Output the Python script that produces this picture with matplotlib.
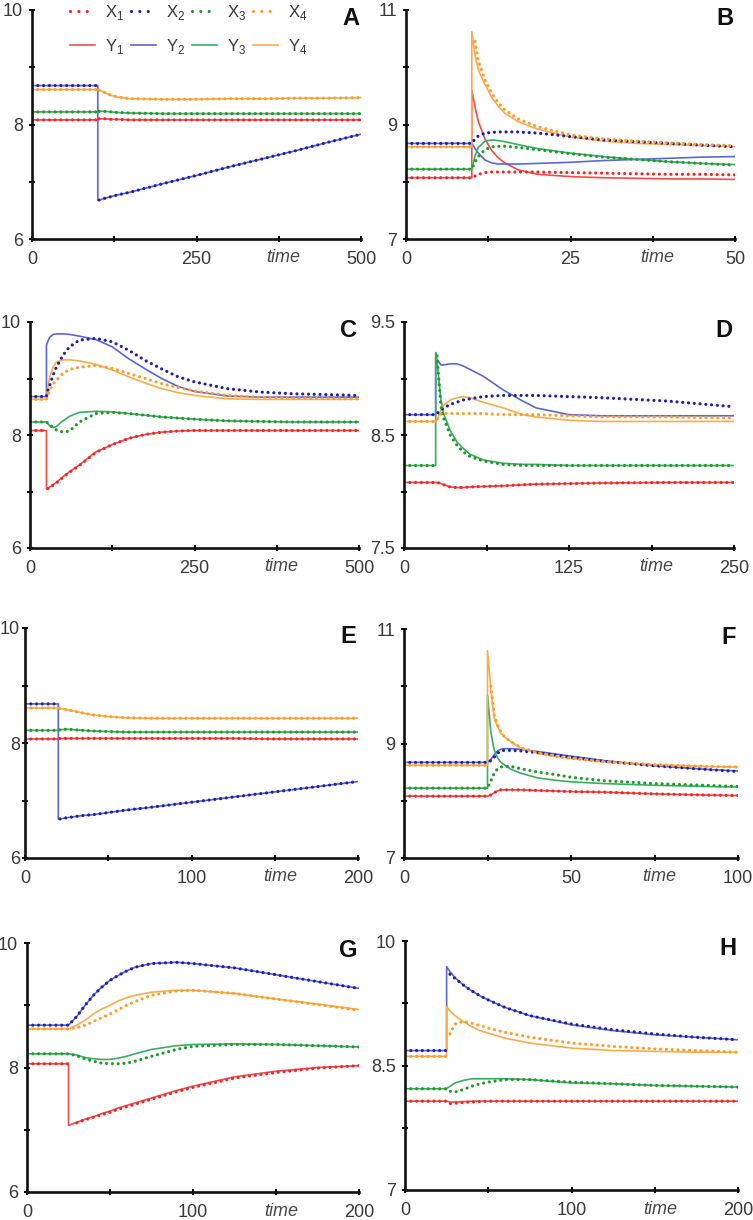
"""Eight small time-course panels (A-H): model X_i dotted, Y_i solid.
Values are read off the published figure, one list per series.
"""

import numpy as np
import matplotlib
matplotlib.use("Agg")
import matplotlib.pyplot as plt
from matplotlib.lines import Line2D

plt.rcParams["font.family"] = ["Liberation Sans", "DejaVu Sans"]
plt.rcParams["mathtext.fontset"] = "custom"
plt.rcParams["mathtext.rm"] = "Liberation Sans"
nan = np.nan

# ---------------- panel A ----------------
A_T = [0, 100, 100, 102, 110, 120, 130, 150, 200, 250, 300, 350, 400, 450, 500]
A_X1 = [8.08, 8.08, nan, 8.10, 8.10, 8.09, 8.09, 8.08, 8.08, 8.08, 8.08, 8.08, 8.08, 8.08, 8.08]
A_X2 = [8.68, 8.68, nan, 6.68, 6.71, 6.74, 6.77, 6.82, 6.97, 7.11, 7.26, 7.40, 7.54, 7.69, 7.83]
A_X3 = [8.22, 8.22, nan, 8.23, 8.23, 8.22, 8.21, 8.20, 8.19, 8.19, 8.19, 8.19, 8.19, 8.19, 8.19]
A_X4 = [8.61, 8.61, nan, 8.60, 8.56, 8.51, 8.48, 8.45, 8.44, 8.44, 8.45, 8.45, 8.46, 8.46, 8.47]
A_Y1 = [8.08, 8.08, 8.10, 8.10, 8.10, 8.09, 8.09, 8.08, 8.08, 8.08, 8.08, 8.08, 8.08, 8.08, 8.08]
A_Y2 = [8.68, 8.68, 6.68, 6.68, 6.71, 6.74, 6.77, 6.82, 6.97, 7.11, 7.26, 7.40, 7.54, 7.69, 7.83]
A_Y3 = [8.22, 8.22, 8.23, 8.23, 8.23, 8.22, 8.21, 8.20, 8.19, 8.19, 8.19, 8.19, 8.19, 8.19, 8.19]
A_Y4 = [8.61, 8.61, 8.61, 8.60, 8.56, 8.51, 8.48, 8.45, 8.44, 8.44, 8.45, 8.45, 8.46, 8.46, 8.47]

# ---------------- panel B ----------------
B_T = [0, 10, 10, 10.5, 11, 12, 13, 14, 15, 17, 20, 25, 30, 35, 40, 45, 50]
B_X1 = [8.07, 8.07, 8.07, 8.10, 8.13, 8.16, 8.17, 8.17, 8.17, 8.17, 8.17, 8.16, 8.15, 8.14, 8.13, 8.13, 8.12]
B_X2 = [8.67, 8.67, 8.67, 8.75, 8.80, 8.85, 8.86, 8.87, 8.87, 8.87, 8.85, 8.79, 8.73, 8.70, 8.67, 8.64, 8.61]
B_X3 = [8.22, 8.22, 8.22, 8.35, 8.44, 8.56, 8.61, 8.62, 8.62, 8.60, 8.56, 8.49, 8.43, 8.39, 8.35, 8.32, 8.29]
B_X4 = [8.61, 8.61, nan, 10.45, 10.10, 9.78, 9.55, 9.38, 9.26, 9.10, 8.96, 8.82, 8.75, 8.71, 8.68, 8.65, 8.63]
B_Y1 = [8.07, 8.07, 9.60, 9.30, 9.05, 8.75, 8.55, 8.42, 8.33, 8.21, 8.13, 8.09, 8.07, 8.06, 8.05, 8.05, 8.04]
B_Y2 = [8.67, 8.67, 8.67, 8.58, 8.50, 8.38, 8.33, 8.31, 8.31, 8.31, 8.32, 8.34, 8.37, 8.39, 8.41, 8.43, 8.44]
B_Y3 = [8.22, 8.22, 8.22, 8.45, 8.60, 8.71, 8.73, 8.72, 8.70, 8.65, 8.58, 8.50, 8.44, 8.39, 8.35, 8.32, 8.30]
B_Y4 = [8.61, 8.61, 10.62, 10.20, 9.95, 9.70, 9.48, 9.32, 9.20, 9.05, 8.92, 8.78, 8.71, 8.67, 8.65, 8.63, 8.61]

# ---------------- panel C ----------------
C_T = [0, 25, 25, 27, 30, 35, 40, 50, 60, 75, 100, 125, 150, 175, 200, 225, 250, 300, 350, 400, 500]
C_X1 = [8.08, 8.08, nan, 7.05, 7.07, 7.11, 7.15, 7.25, 7.34, 7.46, 7.69, 7.83, 7.94, 8.01, 8.05, 8.07, 8.08, 8.08, 8.08, 8.08, 8.08]
C_X2 = [8.68, 8.68, 8.68, 8.78, 8.88, 9.06, 9.20, 9.41, 9.56, 9.68, 9.71, 9.65, 9.50, 9.32, 9.17, 9.03, 8.94, 8.82, 8.76, 8.73, 8.70]
C_X3 = [8.23, 8.23, 8.23, 8.21, 8.18, 8.13, 8.09, 8.05, 8.07, 8.23, 8.38, 8.40, 8.38, 8.35, 8.32, 8.30, 8.28, 8.25, 8.24, 8.23, 8.23]
C_X4 = [8.63, 8.63, 8.63, 8.70, 8.79, 8.90, 8.97, 9.09, 9.16, 9.20, 9.23, 9.18, 9.09, 9.00, 8.91, 8.84, 8.78, 8.70, 8.67, 8.65, 8.64]
C_Y1 = [8.08, 8.08, 7.05, 7.06, 7.08, 7.12, 7.16, 7.26, 7.35, 7.47, 7.70, 7.83, 7.94, 8.01, 8.05, 8.07, 8.08, 8.08, 8.08, 8.08, 8.08]
C_Y2 = [8.68, 8.68, 9.59, 9.65, 9.73, 9.78, 9.79, 9.79, 9.78, 9.75, 9.69, 9.56, 9.35, 9.17, 9.00, 8.86, 8.77, 8.69, 8.67, 8.67, 8.67]
C_Y3 = [8.23, 8.23, 8.23, 8.20, 8.16, 8.13, 8.15, 8.25, 8.33, 8.40, 8.42, 8.41, 8.38, 8.35, 8.32, 8.30, 8.28, 8.25, 8.24, 8.23, 8.23]
C_Y4 = [8.63, 8.63, 8.63, 8.85, 9.03, 9.20, 9.29, 9.33, 9.33, 9.31, 9.25, 9.15, 9.03, 8.92, 8.82, 8.75, 8.70, 8.64, 8.63, 8.63, 8.63]

# ---------------- panel D ----------------
D_T = [0, 24, 24, 25, 28, 30, 35, 40, 45, 50, 60, 75, 90, 100, 125, 150, 200, 250]
D_X1 = [8.08, 8.08, 8.08, 8.08, 8.07, 8.06, 8.04, 8.035, 8.035, 8.04, 8.045, 8.05, 8.06, 8.065, 8.07, 8.075, 8.08, 8.08]
D_X2 = [8.68, 8.68, 8.68, 8.69, 8.72, 8.74, 8.77, 8.79, 8.81, 8.82, 8.84, 8.85, 8.85, 8.85, 8.84, 8.83, 8.80, 8.75]
D_X3 = [8.23, 8.23, nan, 9.20, 8.75, 8.65, 8.50, 8.41, 8.35, 8.31, 8.27, 8.24, 8.23, 8.23, 8.23, 8.23, 8.23, 8.23]
D_X4 = [8.62, 8.62, 8.62, 8.64, 8.69, 8.69, 8.69, 8.69, 8.69, 8.69, 8.69, 8.68, 8.68, 8.68, 8.67, 8.66, 8.66, 8.65]
D_Y1 = [8.08, 8.08, 8.08, 8.08, 8.07, 8.06, 8.04, 8.035, 8.035, 8.04, 8.045, 8.05, 8.06, 8.065, 8.07, 8.075, 8.08, 8.08]
D_Y2 = [8.68, 8.68, 9.19, 9.17, 9.12, 9.12, 9.13, 9.13, 9.11, 9.08, 9.02, 8.90, 8.80, 8.74, 8.68, 8.67, 8.67, 8.67]
D_Y3 = [8.23, 8.23, 9.23, 9.15, 8.81, 8.69, 8.54, 8.44, 8.38, 8.33, 8.28, 8.25, 8.24, 8.24, 8.23, 8.23, 8.23, 8.23]
D_Y4 = [8.62, 8.62, 8.62, 8.64, 8.72, 8.76, 8.81, 8.83, 8.84, 8.83, 8.79, 8.74, 8.68, 8.66, 8.63, 8.62, 8.62, 8.62]

# ---------------- panel E ----------------
E_T = [0, 20, 20, 21, 25, 30, 35, 40, 50, 60, 75, 100, 125, 150, 175, 200]
E_X1 = [8.07, 8.07, 8.07, 8.08, 8.08, 8.08, 8.08, 8.08, 8.08, 8.08, 8.08, 8.08, 8.08, 8.07, 8.07, 8.07]
E_X2 = [8.68, 8.68, nan, 6.68, 6.70, 6.72, 6.74, 6.75, 6.79, 6.83, 6.88, 6.97, 7.06, 7.15, 7.24, 7.33]
E_X3 = [8.22, 8.22, 8.22, 8.23, 8.24, 8.23, 8.22, 8.21, 8.20, 8.19, 8.19, 8.19, 8.19, 8.19, 8.19, 8.19]
E_X4 = [8.61, 8.61, 8.61, 8.60, 8.58, 8.55, 8.52, 8.49, 8.46, 8.44, 8.43, 8.43, 8.43, 8.43, 8.43, 8.43]
E_Y1 = [8.07, 8.07, 8.07, 8.08, 8.08, 8.08, 8.08, 8.08, 8.08, 8.08, 8.08, 8.08, 8.08, 8.07, 8.07, 8.07]
E_Y2 = [8.68, 8.68, 6.68, 6.68, 6.70, 6.72, 6.74, 6.75, 6.79, 6.83, 6.88, 6.97, 7.06, 7.15, 7.24, 7.33]
E_Y3 = [8.22, 8.22, 8.22, 8.23, 8.24, 8.23, 8.22, 8.21, 8.20, 8.19, 8.19, 8.19, 8.19, 8.19, 8.19, 8.19]
E_Y4 = [8.61, 8.61, 8.61, 8.60, 8.58, 8.55, 8.52, 8.49, 8.46, 8.44, 8.43, 8.43, 8.43, 8.43, 8.43, 8.43]

# ---------------- panel F ----------------
F_T = [0, 25, 25, 26, 27, 28, 29, 30, 32, 35, 40, 45, 50, 60, 75, 90, 100]
F_X1 = [8.08, 8.08, 8.08, 8.10, 8.14, 8.17, 8.19, 8.19, 8.19, 8.19, 8.18, 8.17, 8.16, 8.15, 8.12, 8.10, 8.09]
F_X2 = [8.67, 8.67, 8.67, 8.70, 8.76, 8.83, 8.87, 8.88, 8.88, 8.87, 8.84, 8.80, 8.76, 8.69, 8.61, 8.55, 8.51]
F_X3 = [8.22, 8.22, 8.22, 8.35, 8.48, 8.56, 8.59, 8.60, 8.60, 8.56, 8.50, 8.46, 8.41, 8.35, 8.30, 8.27, 8.25]
F_X4 = [8.62, 8.62, nan, 10.00, 9.50, 9.32, 9.20, 9.12, 9.03, 8.93, 8.84, 8.78, 8.74, 8.68, 8.63, 8.60, 8.59]
F_Y1 = [8.08, 8.08, 8.08, 8.10, 8.14, 8.17, 8.19, 8.19, 8.19, 8.19, 8.18, 8.17, 8.16, 8.15, 8.12, 8.10, 8.09]
F_Y2 = [8.67, 8.67, 8.67, 8.72, 8.80, 8.87, 8.90, 8.91, 8.91, 8.90, 8.86, 8.82, 8.78, 8.70, 8.61, 8.55, 8.52]
F_Y3 = [8.22, 8.22, 9.85, 9.20, 8.89, 8.75, 8.67, 8.63, 8.55, 8.48, 8.40, 8.36, 8.33, 8.30, 8.27, 8.25, 8.24]
F_Y4 = [8.62, 8.62, 10.62, 9.95, 9.44, 9.30, 9.18, 9.12, 9.03, 8.92, 8.83, 8.78, 8.74, 8.68, 8.63, 8.60, 8.59]

# ---------------- panel G ----------------
G_T = [0, 25, 25, 30, 35, 40, 45, 50, 55, 60, 65, 75, 90, 100, 125, 150, 175, 200]
G_X1 = [8.06, 8.06, nan, 7.11, 7.16, 7.20, 7.24, 7.28, 7.33, 7.37, 7.41, 7.49, 7.61, 7.68, 7.83, 7.92, 7.99, 8.03]
G_X2 = [8.68, 8.68, 8.68, 8.82, 9.00, 9.16, 9.29, 9.40, 9.48, 9.55, 9.61, 9.67, 9.69, 9.67, 9.60, 9.49, 9.38, 9.27]
G_X3 = [8.22, 8.22, 8.22, 8.19, 8.14, 8.10, 8.07, 8.06, 8.06, 8.07, 8.10, 8.18, 8.29, 8.34, 8.37, 8.37, 8.35, 8.33]
G_X4 = [8.62, 8.62, 8.62, 8.64, 8.68, 8.74, 8.80, 8.86, 8.93, 9.00, 9.06, 9.16, 9.23, 9.24, 9.19, 9.10, 9.01, 8.92]
G_Y1 = [8.06, 8.06, 7.07, 7.12, 7.17, 7.21, 7.26, 7.30, 7.35, 7.39, 7.43, 7.51, 7.63, 7.70, 7.85, 7.94, 8.00, 8.03]
G_Y2 = [8.68, 8.68, 8.68, 8.82, 9.00, 9.16, 9.29, 9.40, 9.48, 9.55, 9.61, 9.67, 9.69, 9.67, 9.60, 9.49, 9.38, 9.27]
G_Y3 = [8.22, 8.22, 8.22, 8.20, 8.16, 8.14, 8.13, 8.13, 8.15, 8.18, 8.22, 8.29, 8.35, 8.37, 8.38, 8.37, 8.35, 8.33]
G_Y4 = [8.62, 8.62, 8.62, 8.68, 8.76, 8.86, 8.94, 9.00, 9.07, 9.12, 9.16, 9.21, 9.24, 9.24, 9.19, 9.10, 9.02, 8.93]

# ---------------- panel H ----------------
H_T = [0, 25, 25, 27, 30, 35, 40, 45, 50, 60, 75, 100, 125, 150, 175, 200]
H_X1 = [8.07, 8.07, 8.07, 8.04, 8.045, 8.055, 8.06, 8.065, 8.07, 8.07, 8.07, 8.07, 8.07, 8.07, 8.07, 8.07]
H_X2 = [8.68, 8.68, nan, 9.60, 9.55, 9.47, 9.40, 9.34, 9.29, 9.20, 9.10, 9.00, 8.93, 8.88, 8.84, 8.81]
H_X3 = [8.22, 8.22, 8.22, 8.19, 8.18, 8.21, 8.25, 8.28, 8.30, 8.33, 8.33, 8.30, 8.28, 8.26, 8.25, 8.24]
H_X4 = [8.61, 8.61, nan, 8.88, 9.00, 9.03, 9.01, 8.98, 8.95, 8.90, 8.84, 8.77, 8.73, 8.70, 8.68, 8.66]
H_Y1 = [8.07, 8.07, 8.07, 8.06, 8.06, 8.065, 8.07, 8.07, 8.07, 8.07, 8.07, 8.07, 8.07, 8.07, 8.07, 8.07]
H_Y2 = [8.68, 8.68, 9.69, 9.63, 9.56, 9.47, 9.40, 9.34, 9.29, 9.20, 9.10, 8.99, 8.92, 8.87, 8.84, 8.81]
H_Y3 = [8.22, 8.22, 8.22, 8.25, 8.29, 8.32, 8.34, 8.34, 8.34, 8.34, 8.33, 8.29, 8.28, 8.26, 8.25, 8.24]
H_Y4 = [8.61, 8.61, 9.21, 9.16, 9.10, 9.03, 8.97, 8.92, 8.89, 8.83, 8.77, 8.71, 8.68, 8.67, 8.66, 8.66]

# axis ranges and the three labelled y ticks of each panel
A_XMAX, A_YTICKS = 500, ["6", "8", "10"]
B_XMAX, B_YTICKS = 50, ["7", "9", "11"]
C_XMAX, C_YTICKS = 500, ["6", "8", "10"]
D_XMAX, D_YTICKS = 250, ["7.5", "8.5", "9.5"]
E_XMAX, E_YTICKS = 200, ["6", "8", "10"]
F_XMAX, F_YTICKS = 100, ["7", "9", "11"]
G_XMAX, G_YTICKS = 200, ["6", "8", "10"]
H_XMAX, H_YTICKS = 200, ["7", "8.5", "10"]

X_COLORS = ["#f22626", "#2020a8", "#1f9a2c", "#ff9d2a"]
Y_COLORS = ["#f24c4c", "#5a68d6", "#3aae62", "#ffab4c"]

# panel boxes in pixels: left, right, top, bottom (figure is 753 x 1220)
W, H = 753, 1220
BOXES = {
    "A": (32, 361, 10, 239), "B": (406, 735, 10, 239),
    "C": (30, 359, 322, 548), "D": (404, 734, 322, 548),
    "E": (25, 358, 628, 858), "F": (404, 738, 629, 858),
    "G": (27, 359, 943, 1192), "H": (405, 738, 941, 1190),
}

# dots every ~6 px, sitting on top of the thin solid lines
DOT = dict(linewidth=2.3, linestyle=(0, (0.01, 1.8)), dash_capstyle="round")
SOLID = dict(linewidth=1.2, solid_joinstyle="round")
TXT = "#3a3a3a"


def draw_panel(fig, letter, t, xs, ys, xmax, ylabels):
    l, r, top, bot = BOXES[letter]
    ax = fig.add_axes([l / W, 1 - bot / H, (r - l) / W, (bot - top) / H])
    # solid model lines under the dotted ones, like the original
    for y, c in zip(ys, Y_COLORS):
        ax.plot(t, y, color=c, **SOLID)
    for x, c in zip(xs, X_COLORS):
        ax.plot(t, x, color=c, **DOT)

    lo, hi = float(ylabels[0]), float(ylabels[-1])
    ax.set_xlim(0, xmax)
    ax.set_ylim(lo, hi)
    ax.set_yticks(np.linspace(lo, hi, 5))
    ax.set_yticklabels([ylabels[0], "", ylabels[1], "", ylabels[2]])
    ax.set_xticks(np.linspace(0, xmax, 5))
    ax.set_xticklabels(["0", "", f"{xmax // 2}", "", f"{xmax}"])
    ax.tick_params(direction="inout", length=5, width=1.4, labelsize=13,
                   labelcolor=TXT, pad=4)
    ax.tick_params(axis="x", pad=6)
    for s in ("top", "right"):
        ax.spines[s].set_visible(False)
    for s in ("left", "bottom"):
        ax.spines[s].set_linewidth(1.9)
        ax.spines[s].set_color("#111111")
    ax.set_facecolor("none")
    ax.text(0.765, -0.045, "time", transform=ax.transAxes, ha="center",
            va="top", fontsize=13, style="italic", color="#4a4a4a")
    ax.text(0.995, 1.015, letter, transform=ax.transAxes, ha="right",
            va="top", fontsize=17, fontweight="bold", color="#111111")
    return ax


fig = plt.figure(figsize=(W / 100, H / 100), dpi=100)

panels = [
    ("A", A_T, [A_X1, A_X2, A_X3, A_X4], [A_Y1, A_Y2, A_Y3, A_Y4], A_XMAX, A_YTICKS),
    ("B", B_T, [B_X1, B_X2, B_X3, B_X4], [B_Y1, B_Y2, B_Y3, B_Y4], B_XMAX, B_YTICKS),
    ("C", C_T, [C_X1, C_X2, C_X3, C_X4], [C_Y1, C_Y2, C_Y3, C_Y4], C_XMAX, C_YTICKS),
    ("D", D_T, [D_X1, D_X2, D_X3, D_X4], [D_Y1, D_Y2, D_Y3, D_Y4], D_XMAX, D_YTICKS),
    ("E", E_T, [E_X1, E_X2, E_X3, E_X4], [E_Y1, E_Y2, E_Y3, E_Y4], E_XMAX, E_YTICKS),
    ("F", F_T, [F_X1, F_X2, F_X3, F_X4], [F_Y1, F_Y2, F_Y3, F_Y4], F_XMAX, F_YTICKS),
    ("G", G_T, [G_X1, G_X2, G_X3, G_X4], [G_Y1, G_Y2, G_Y3, G_Y4], G_XMAX, G_YTICKS),
    ("H", H_T, [H_X1, H_X2, H_X3, H_X4], [H_Y1, H_Y2, H_Y3, H_Y4], H_XMAX, H_YTICKS),
]
axes = {}
for p in panels:
    axes[p[0]] = draw_panel(fig, *p)
# E sits closest to the left edge; pull its labels in so "10" isn't clipped
axes["E"].tick_params(axis="y", pad=1)

# legend sits inside panel A: X row on top, Y row below.
# ncol=4 fills column by column, so interleave X_i, Y_i.
LEG_DOT = dict(linewidth=2.3, linestyle=(0, (0.01, 2.6)), dash_capstyle="round")
handles = []
for i in range(4):
    handles.append(Line2D([], [], color=X_COLORS[i], **LEG_DOT,
                          label=r"X$_{\mathregular{%d}}$" % (i + 1)))
    handles.append(Line2D([], [], color=Y_COLORS[i], **SOLID,
                          label=r"Y$_{\mathregular{%d}}$" % (i + 1)))
fig.legend(handles=handles, ncol=4, loc="upper left",
           bbox_to_anchor=(62 / W, 1 + 5 / H), frameon=False,
           fontsize=12, labelcolor=TXT, borderpad=0, handlelength=1.5,
           handletextpad=0.6, columnspacing=0.4, labelspacing=0.85)

fig.savefig("out.png", dpi=100)
